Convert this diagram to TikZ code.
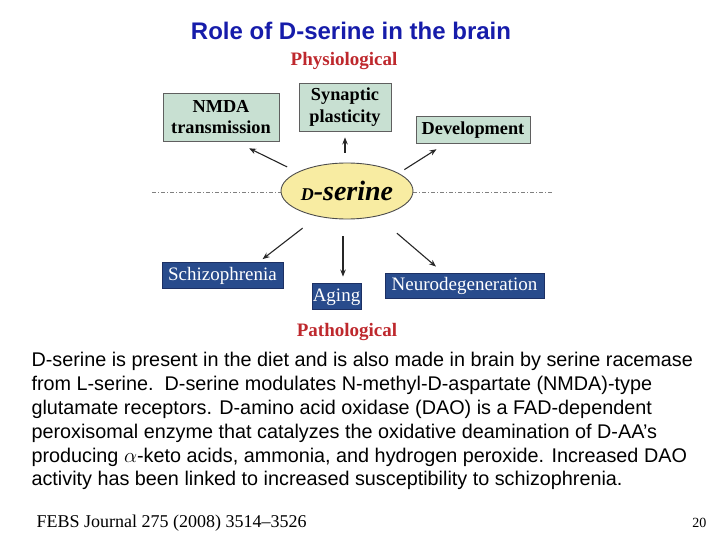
\documentclass[tikz,border=0pt]{standalone}
\usepackage{fontspec}
\setmainfont{Liberation Serif}
\setsansfont{Liberation Sans}
\usetikzlibrary{arrows.meta, shapes.geometric}

\definecolor{titleblue}{RGB}{22,28,170}
\definecolor{labelred}{RGB}{190,40,45}
\definecolor{physfill}{RGB}{200,224,210}
\definecolor{physedge}{RGB}{95,95,95}
\definecolor{pathfill}{RGB}{40,75,140}
\definecolor{pathedge}{RGB}{28,48,100}
\definecolor{serfill}{RGB}{248,236,162}

\begin{document}
\begin{tikzpicture}[x=1pt, y=-1pt, line width=1.1pt,
    physio/.style={draw=physedge, fill=physfill, line width=0.9pt, inner sep=0pt,
      align=center, font=\fontsize{18.3}{21.5}\selectfont\bfseries},
    patho/.style={draw=pathedge, fill=pathfill, text=white, line width=0.9pt, inner sep=0pt,
      text height=12.5pt, text depth=2.5pt, font=\fontsize{19}{21}\selectfont},
    group/.style={text=labelred, font=\fontsize{19}{21}\selectfont\bfseries},
    arr/.style={-{Stealth[length=7pt,width=5.5pt]}, black!85}]
    \useasboundingbox (0,0) rectangle (720,540);

    \node[text=titleblue, font=\sffamily\bfseries\fontsize{24}{26}\selectfont] (title) at (351,31) {Role of D-serine in the brain};

    % physiological side
    \node[group] (phys) at (344,61) {Physiological};
    \node[physio, minimum width=116pt, minimum height=48pt] (nmda) at (221,117) {NMDA\\transmission};
    \node[physio, minimum width=92pt, minimum height=48pt] (syn) at (345,107) {Synaptic\\plasticity};
    \node[physio, minimum width=114pt, minimum height=27pt, text height=13pt, text depth=2pt] (dev) at (473,129.5) {Development};

    % dividing line and centre
    \draw[gray, line width=0.6pt, dash pattern=on 4pt off 2pt on 1pt off 2pt] (152,192) -- (552,192);
    \node[draw=black!70, fill=serfill, line width=0.9pt, ellipse, minimum width=132pt, minimum height=56pt, inner sep=0pt,
      font=\fontsize{28}{30}\selectfont\bfseries\itshape] (ser) at (347,191) {{\fontsize{18}{20}\selectfont D}-serine};

    % pathological side
    \node[patho, minimum width=121pt, minimum height=26pt] (sch) at (222.5,275) {Schizophrenia};
    \node[patho, minimum width=49pt, minimum height=26pt] (agi) at (336.5,296) {Aging};
    \node[patho, minimum width=159pt, minimum height=25pt] (neu) at (464.5,285.5) {Neurodegeneration};
    \node[group] (path) at (347,332) {Pathological};

    \draw[arr, shorten <=11.6pt, shorten >=15.6pt] (ser.159) -- (nmda.-60);
    \draw[arr, shorten <=10pt, shorten >=6pt] (ser.north -| syn.south) -- (syn.south);
    \draw[arr, shorten <=6.6pt, shorten >=10.8pt] (ser.19) -- (dev.207);
    \draw[arr, shorten <=19pt, shorten >=4pt] (ser.221) -- (sch.20);
    \draw[arr, shorten <=17pt, shorten >=6pt] ([xshift=-4pt]ser.south) -- ([xshift=-4pt]ser.south |- agi.north);
    \draw[arr, shorten <=26pt, shorten >=9.2pt] (ser.320) -- (neu.149);

    \node[anchor=north west, align=left, inner sep=0pt, font=\sffamily\fontsize{19.8}{23.8}\selectfont] (txt) at (31,352)
      {D-serine is present in the diet and is also made in brain by serine racemase\\
       from L-serine.\ \ D-serine modulates N-methyl-D-aspartate (NMDA)-type\\
       glutamate receptors. D-amino acid oxidase (DAO) is a FAD-dependent\\
       peroxisomal enzyme that catalyzes the oxidative deamination of D-AA’s\\
       producing $\alpha$-keto acids, ammonia, and hydrogen peroxide. Increased DAO\\
       activity has been linked to increased susceptibility to schizophrenia.};

    \node[anchor=base west, inner sep=0pt, font=\fontsize{18}{20}\selectfont] (ref) at (36,527) {FEBS Journal 275 (2008) 3514–3526};
    \node[anchor=base east, inner sep=0pt, font=\fontsize{14}{16}\selectfont] (pg) at (707,527) {20};
\end{tikzpicture}
\end{document}
